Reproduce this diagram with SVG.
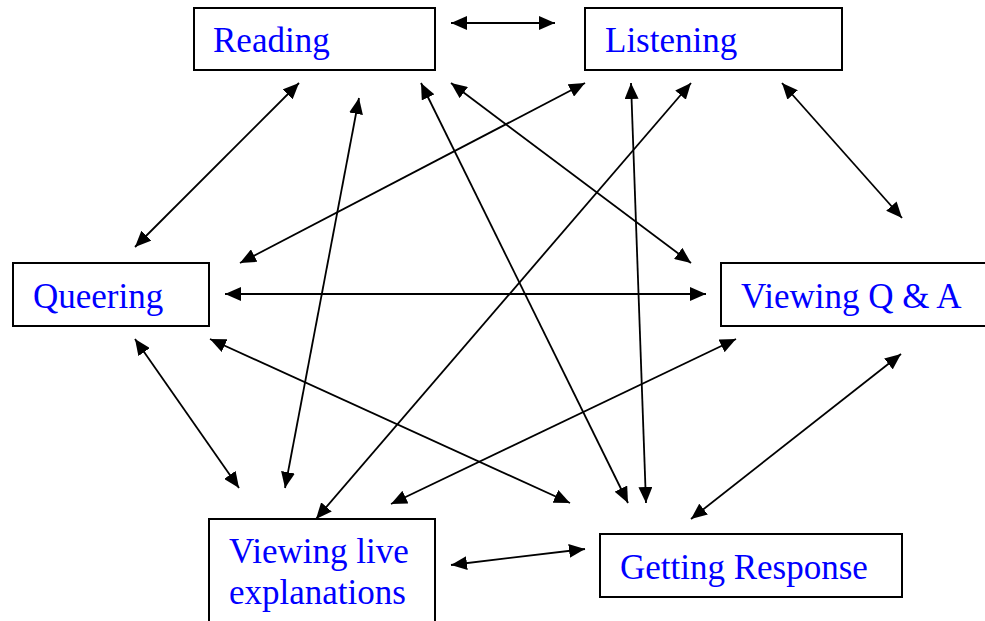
<svg xmlns="http://www.w3.org/2000/svg" width="985" height="621" viewBox="0 0 985 621">
  <style>
    .box { fill: #ffffff; stroke: #000000; stroke-width: 2; }
    .label { font-family: "Liberation Serif", "Times New Roman", serif; font-size: 35px; fill: #0000ff; }
    .link { stroke: #000000; stroke-width: 1.8; fill: none; marker-start: url(#head); marker-end: url(#head); }
  </style>
  <defs>
    <marker id="head" viewBox="0 0 16 14" refX="16" refY="7" markerWidth="16" markerHeight="14" markerUnits="userSpaceOnUse" orient="auto-start-reverse">
      <path d="M0,0 L16,7 L0,14 Z" fill="#000000"/>
    </marker>
  </defs>
  <rect width="985" height="621" fill="#ffffff"/>

  <g id="connectors">
    <line class="link" x1="451" y1="23" x2="555" y2="23"/>
    <line class="link" x1="299" y1="83" x2="135" y2="247"/>
    <line class="link" x1="359" y1="98" x2="285" y2="488"/>
    <line class="link" x1="421" y1="83" x2="628" y2="503"/>
    <line class="link" x1="451" y1="83" x2="691" y2="263"/>
    <line class="link" x1="585" y1="83" x2="240" y2="263"/>
    <line class="link" x1="631" y1="83" x2="646" y2="503"/>
    <line class="link" x1="691" y1="83" x2="316" y2="519"/>
    <line class="link" x1="782" y1="83" x2="902" y2="218"/>
    <line class="link" x1="225" y1="294" x2="706" y2="294"/>
    <line class="link" x1="135" y1="339" x2="239" y2="488"/>
    <line class="link" x1="210" y1="339" x2="570" y2="503"/>
    <line class="link" x1="391" y1="504" x2="736" y2="339"/>
    <line class="link" x1="901" y1="354" x2="691" y2="519"/>
    <line class="link" x1="451" y1="565" x2="585" y2="549"/>
  </g>

  <g id="reading">
    <rect class="box" x="194" y="8" width="241" height="62"/>
    <text class="label" x="213" y="52">Reading</text>
  </g>
  <g id="listening">
    <rect class="box" x="585" y="8" width="257" height="62"/>
    <text class="label" x="605" y="52">Listening</text>
  </g>
  <g id="queering">
    <rect class="box" x="13" y="263" width="196" height="63"/>
    <text class="label" x="33" y="308">Queering</text>
  </g>
  <g id="viewing-qa">
    <rect class="box" x="721" y="263" width="280" height="63"/>
    <text class="label" x="741" y="308">Viewing Q &amp; A</text>
  </g>
  <g id="viewing-live">
    <rect class="box" x="209" y="519" width="226" height="120"/>
    <text class="label" x="229" y="563">Viewing live</text>
    <text class="label" x="229" y="604">explanations</text>
  </g>
  <g id="getting-response">
    <rect class="box" x="600" y="534" width="302" height="63"/>
    <text class="label" x="620" y="579">Getting Response</text>
  </g>
</svg>
